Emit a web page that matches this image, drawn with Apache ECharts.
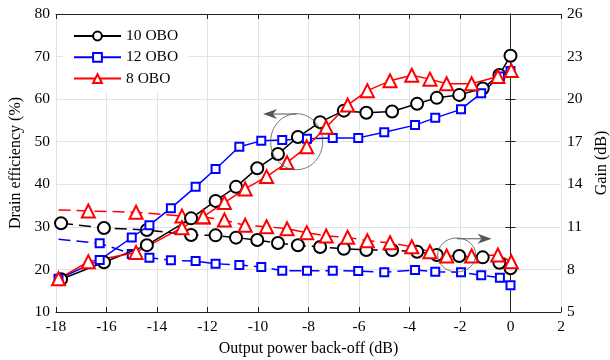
<!DOCTYPE html>
<html>
<head>
<meta charset="utf-8">
<script src="https://cdn.jsdelivr.net/npm/echarts@6/dist/echarts.min.js"></script>
<style>
  html, body { margin: 0; padding: 0; background: #fff; }
  #chart { width: 610px; height: 360px; }
</style>
</head>
<body>
<div id="chart"></div>
<script>
// x positions (output power back-off, dB) per OBO design
let x10 = [-17.8, -16.1, -14.4, -12.65, -11.68, -10.87, -10.03, -9.21, -8.42, -7.54, -6.6, -5.71, -4.69, -3.7, -2.92, -2.03, -1.1, -0.44, 0]
let x12 = [-17.9, -16.27, -15.0, -14.3, -13.45, -12.47, -11.68, -10.74, -9.87, -9.04, -8.06, -7.04, -6.03, -5.0, -3.78, -2.98, -1.96, -1.16, -0.42, 0]
let x8 = [-17.9, -16.72, -14.83, -13.01, -12.17, -11.33, -10.51, -9.66, -8.85, -8.07, -7.3, -6.45, -5.67, -4.77, -3.91, -3.19, -2.53, -1.54, -0.5, 0.03]

// drain efficiency (%)
let eff10 = [17.7, 21.7, 25.7, 32.0, 36.1, 39.4, 43.75, 47.1, 51.1, 54.6, 57.3, 56.8, 57.1, 58.9, 60.3, 61.0, 62.5, 65.7, 70.2]
let eff12 = [17.8, 22.2, 27.5, 30.4, 34.4, 39.4, 43.6, 48.8, 50.2, 50.4, 50.7, 50.9, 50.9, 52.2, 53.9, 55.6, 57.6, 61.4, 65.3, 66.6]
let eff8 = [17.8, 21.8, 24.0, 29.8, 32.4, 35.7, 38.9, 41.8, 45.1, 48.8, 53.4, 58.6, 62.0, 64.3, 65.6, 64.7, 63.6, 63.6, 65.3, 66.7]

// gain (dB)
let gain10 = [11.25, 10.92, 10.78, 10.43, 10.4, 10.24, 10.07, 9.86, 9.70, 9.58, 9.46, 9.37, 9.37, 9.25, 9.02, 8.95, 8.85, 8.47, 8.08]
let gain12 = [10.12, 9.84, 9.09, 8.83, 8.64, 8.59, 8.4, 8.31, 8.17, 7.91, 7.91, 7.91, 7.89, 7.8, 7.96, 7.84, 7.8, 7.59, 7.42, 6.88]
let gain8 = [12.19, 12.12, 12.03, 11.76, 11.69, 11.48, 11.11, 11.01, 10.87, 10.59, 10.36, 10.26, 10.02, 9.88, 9.6, 9.25, 8.95, 8.95, 9.02, 8.54]

let font = "Liberation Serif"

function pairs(xs, ys, hideFirst){
    return ys.map((y, i) => {
        if (hideFirst && i === 0) return { value: [xs[i], y], symbol: "none" }
        return [xs[i], y]
    })
}

function solid(name, color, symbol, size, data){
    return {
        name: name, type: "line", xAxisIndex: 0, yAxisIndex: 0,
        data: data, symbol: symbol, symbolSize: size,
        lineStyle: { color: color, width: 1.5 },
        itemStyle: { color: color, borderWidth: 1.4 },
        z: 3
    }
}

function dashed(name, color, symbol, size, data){
    return {
        name: name, type: "line", xAxisIndex: 0, yAxisIndex: 1,
        data: data, symbol: symbol, symbolSize: size,
        lineStyle: { color: color, width: 1.5, type: [12, 6] },
        itemStyle: { color: color, borderWidth: 1.4 },
        z: 2
    }
}

let axisText = { color: "#000", fontFamily: font, fontSize: 15.5 }
let nameText = { color: "#000", fontFamily: font, fontSize: 16 }

let myChart = echarts.init(document.getElementById("chart"))

let options = {
    animation: false,
    backgroundColor: "#fff",
    grid: { left: 56, right: 49, top: 14, bottom: 48, outerBoundsMode: "none" },
    legend: {
        data: ["10 OBO", "12 OBO", "8 OBO"],
        orient: "vertical",
        left: 63, top: 15,
        itemWidth: 47, itemHeight: 11, itemGap: 5.3,
        padding: [13, 10, 6, 10],
        backgroundColor: "#fff",
        textStyle: { color: "#000", fontFamily: font, fontSize: 15.5 }
    },
    xAxis: [{
        type: "value", min: -18, max: 2, interval: 2,
        name: "Output power back-off (dB)", nameLocation: "middle", nameGap: 29,
        nameTextStyle: nameText,
        axisLine: { lineStyle: { color: "#222" } },
        axisTick: { inside: true, length: 5, lineStyle: { color: "#222" } },
        axisLabel: Object.assign({ margin: 7 }, axisText),
        splitLine: { show: true, lineStyle: { color: "#e3e3e3" } }
    }, {
        type: "value", min: -18, max: 2, interval: 2, position: "top",
        axisLine: { lineStyle: { color: "#222" } },
        axisTick: { inside: true, length: 5, lineStyle: { color: "#222" } },
        axisLabel: { show: false },
        splitLine: { show: false }
    }],
    yAxis: [{
        type: "value", min: 10, max: 80, interval: 10,
        name: "Drain efficiency (%)", nameLocation: "middle", nameGap: 28,
        nameTextStyle: nameText,
        axisLine: { show: true, lineStyle: { color: "#222" } },
        axisTick: { show: true, inside: true, length: 5, lineStyle: { color: "#222" } },
        axisLabel: Object.assign({ margin: 6 }, axisText),
        splitLine: { show: true, lineStyle: { color: "#e3e3e3" } }
    }, {
        type: "value", min: 5, max: 26, interval: 3,
        name: "Gain (dB)", nameLocation: "middle", nameGap: 31, nameRotate: 90,
        nameTextStyle: nameText,
        axisLine: { show: true, lineStyle: { color: "#222" } },
        axisTick: { show: true, inside: true, length: 5, lineStyle: { color: "#222" } },
        axisLabel: Object.assign({ margin: 6 }, axisText),
        splitLine: { show: false }
    }],
    series: [
        solid("10 OBO", "#000", "emptyCircle", 12, pairs(x10, eff10)),
        solid("12 OBO", "#0000ff", "emptyRect", 8, pairs(x12, eff12)),
        solid("8 OBO", "#ff0000", "emptyTriangle", 13, pairs(x8, eff8)),
        dashed("10 OBO gain", "#000", "emptyCircle", 12, pairs(x10, gain10)),
        dashed("12 OBO gain", "#0000ff", "emptyRect", 8, pairs(x12, gain12, true)),
        dashed("8 OBO gain", "#ff0000", "emptyTriangle", 13, pairs(x8, gain8, true))
    ]
}
myChart.setOption(options)

// annotation ellipses + arrows pointing to each axis
let c1 = myChart.convertToPixel({ xAxisIndex: 0, yAxisIndex: 0 }, [-8.47, 50.0])
let a1 = myChart.convertToPixel({ xAxisIndex: 0, yAxisIndex: 0 }, [-9.8, 56.5])
let c2 = myChart.convertToPixel({ xAxisIndex: 0, yAxisIndex: 1 }, [-2.13, 9.02])
let a2 = myChart.convertToPixel({ xAxisIndex: 0, yAxisIndex: 1 }, [-0.75, 10.16])
let grey = "#555"

myChart.setOption({
    graphic: [
        { type: "ellipse", shape: { cx: c1[0], cy: c1[1], rx: 26, ry: 28 }, style: { fill: "none", stroke: grey, lineWidth: 0.8 }, z: 10 },
        { type: "line", shape: { x1: c1[0], y1: a1[1], x2: a1[0] + 8, y2: a1[1] }, style: { stroke: grey, lineWidth: 1 }, z: 10 },
        { type: "polygon", shape: { points: [[a1[0], a1[1]], [a1[0] + 14, a1[1] - 5], [a1[0] + 10, a1[1]], [a1[0] + 14, a1[1] + 5]] }, style: { fill: grey }, z: 10 },
        { type: "ellipse", shape: { cx: c2[0], cy: c2[1], rx: 19, ry: 17 }, style: { fill: "none", stroke: grey, lineWidth: 0.8 }, z: 10 },
        { type: "line", shape: { x1: c2[0], y1: a2[1], x2: a2[0] - 8, y2: a2[1] }, style: { stroke: grey, lineWidth: 1 }, z: 10 },
        { type: "polygon", shape: { points: [[a2[0], a2[1]], [a2[0] - 14, a2[1] - 5], [a2[0] - 10, a2[1]], [a2[0] - 14, a2[1] + 5]] }, style: { fill: grey }, z: 10 }
    ]
})
</script>
</body>
</html>
